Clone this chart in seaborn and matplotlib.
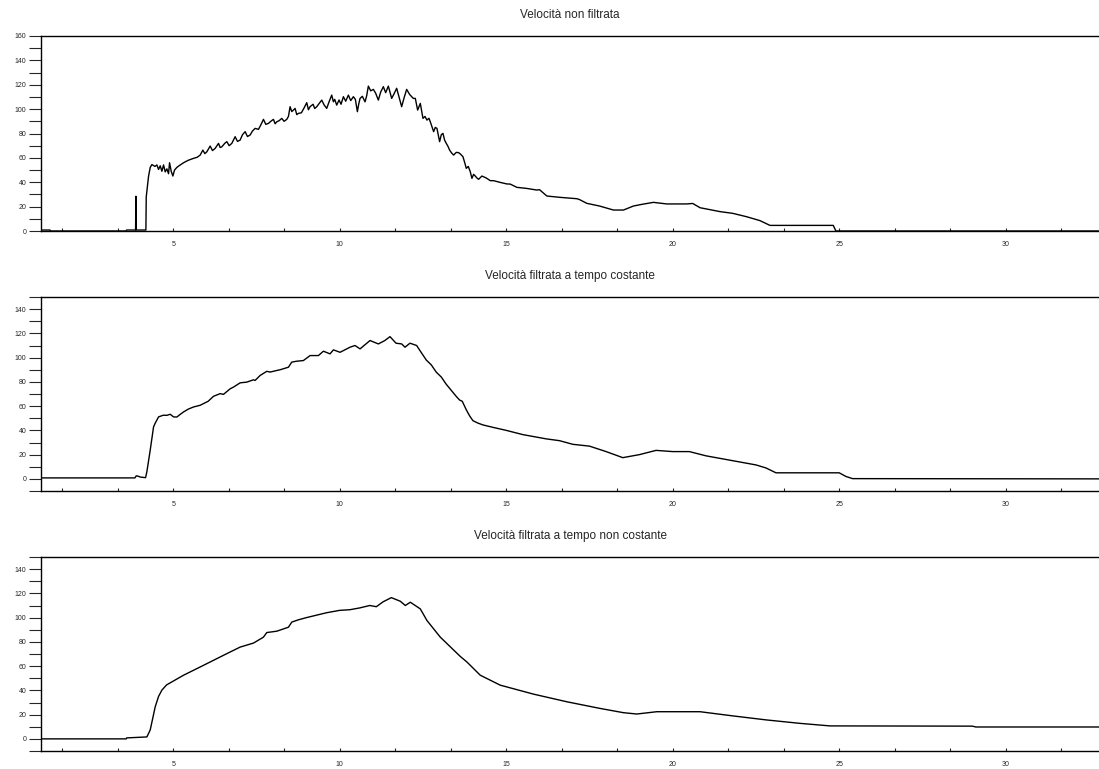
import matplotlib
matplotlib.use("Agg")
import matplotlib.pyplot as plt
from matplotlib.ticker import MultipleLocator
import seaborn as sns
import pandas as pd

# velocita' non filtrata
t_raw = [1.03, 1.3, 1.32, 3.58, 3.6, 3.87, 3.88, 3.89, 4.18, 4.19, 4.26, 4.31, 4.36, 4.45, 4.51, 4.56, 4.61, 4.66,
         4.71, 4.76, 4.81, 4.86, 4.89, 4.94, 4.99, 5.04, 5.11, 5.2, 5.31, 5.45, 5.61, 5.72, 5.81, 5.89, 5.95, 6.01,
         6.11, 6.18, 6.26, 6.36, 6.41, 6.46, 6.55, 6.61, 6.68, 6.76, 6.86, 6.93, 7.01, 7.08, 7.16, 7.23, 7.31, 7.38,
         7.46, 7.56, 7.63, 7.71, 7.78, 7.86, 7.93, 8.01, 8.06, 8.11, 8.18, 8.26, 8.33, 8.41, 8.46, 8.51, 8.56, 8.61,
         8.66, 8.71, 8.76, 8.85, 8.93, 9.01, 9.06, 9.11, 9.2, 9.25, 9.31, 9.38, 9.46, 9.53, 9.61, 9.68, 9.76, 9.81,
         9.85, 9.91, 9.98, 10.04, 10.11, 10.18, 10.26, 10.33, 10.41, 10.47, 10.53, 10.57, 10.61, 10.68, 10.76, 10.81,
         10.86, 10.93, 11.01, 11.08, 11.16, 11.23, 11.31, 11.38, 11.46, 11.51, 11.56, 11.63, 11.71, 11.78, 11.86,
         11.93, 12.01, 12.1, 12.21, 12.27, 12.34, 12.42, 12.5, 12.56, 12.62, 12.68, 12.72, 12.82, 12.87, 12.92, 13.0,
         13.05, 13.1, 13.15, 13.2, 13.25, 13.3, 13.36, 13.42, 13.5, 13.57, 13.63, 13.7, 13.76, 13.8, 13.86, 13.92,
         13.97, 14.02, 14.07, 14.12, 14.17, 14.27, 14.4, 14.52, 14.62, 14.8, 15.02, 15.12, 15.32, 15.6, 15.92, 16.0,
         16.22, 16.62, 17.12, 17.2, 17.42, 17.8, 18.22, 18.52, 18.82, 19.1, 19.42, 19.82, 20.42, 20.6, 20.82, 21.42,
         21.8, 22.22, 22.62, 22.92, 24.82, 24.9, 32.8]
v_raw = [0.8, 0.8, 0, 0, 0.8, 0.8, 28.5, 0.8, 0.8, 28, 45, 52.2, 54.5, 53, 54.2, 50.5, 53.5, 49,
         54.2, 48.5, 51, 47, 56, 49, 45.1, 50, 52.2, 54, 56, 58, 59.6, 60.5, 62.3, 66.4, 63.5, 65,
         69.7, 66, 67.8, 71.9, 68.5, 69.1, 72, 73.3, 70, 71.9, 77.4, 73.5, 74.6, 79, 81.5, 77.5, 78.8, 82,
         84.2, 83.4, 87, 91.6, 87.5, 88.3, 90, 91.6, 88, 89.6, 90.5, 92.4, 90, 91.6, 94, 102, 98, 99.2,
         100.6, 95.5, 96.5, 97, 101, 105.3, 99.5, 102, 104, 100.5, 102, 104.5, 107.4, 103.5, 100.6, 106, 111.5, 106,
         108, 103.3, 107.5, 104, 110.2, 106.5, 111.5, 107, 110.2, 108, 97.9, 104, 108.8, 110.5, 106, 111,
         118.9, 115, 116.2, 113, 107.4, 114, 118.4, 113.5, 118.9, 114, 108.8, 112.5, 117.1, 110, 102,
         109, 116.2, 112, 108.8, 108.8, 99.2, 104.7, 92.4, 94, 91, 92.5, 89.6, 81.5, 85, 84.2, 73.3,
         79, 80.1, 74.5, 71.9, 69.5, 66.4, 64, 62.3, 64.5, 64.3, 63, 61, 55.5, 51.4, 53, 48.7,
         43.2, 46.5, 45.1, 43.5, 42.4, 45.1, 43.5, 41.3, 41.3, 40, 38.6, 38.5, 35.8, 35, 33.6, 33.9,
         28.7, 27.6, 26.5, 25.8, 22.7, 20.5, 17.2, 17.2, 20.5, 22, 23.5, 22.2, 22.2, 22.6, 19.1, 15.9,
         14.5, 11.7, 8.5, 4.6, 4.6, 0, 0]

# velocita' filtrata a tempo costante
t_const = [1.03, 3.85, 3.89, 3.95, 4.01, 4.17, 4.21, 4.31, 4.41, 4.46, 4.56, 4.7, 4.81, 4.91, 5.01, 5.11, 5.2, 5.31,
           5.45, 5.61, 5.81, 5.91, 6.05, 6.21, 6.41, 6.51, 6.71, 6.81, 7.01, 7.21, 7.41, 7.46, 7.61, 7.81, 7.91,
           8.11, 8.21, 8.46, 8.56, 8.7, 8.91, 9.11, 9.36, 9.51, 9.71, 9.81, 10.01, 10.31, 10.46, 10.61, 10.91,
           11.16, 11.35, 11.51, 11.69, 11.86, 11.96, 12.11, 12.31, 12.41, 12.6, 12.75, 12.9, 13.05, 13.2, 13.35,
           13.5, 13.6, 13.68, 13.8, 13.9, 14.0, 14.15, 14.3, 14.6, 15.0, 15.5, 15.9, 16.2, 16.6, 17.0, 17.5, 18.0,
           18.5, 19.0, 19.5, 20.0, 20.5, 21.0, 21.5, 22.0, 22.5, 22.8, 23.1, 25.0, 25.2, 25.4, 32.8]
v_const = [0.8, 0.8, 2.5, 2.2, 1.5, 1, 6, 23.8, 42.9, 46, 51.1, 52.5, 52.4, 53.3, 51.1, 51, 53, 55.2,
           57.5, 59.3, 60.7, 62.1, 64, 68.1, 70.3, 69.7, 74.3, 75.7, 79.2, 79.8, 81.7, 81.2, 85.3, 88.7, 88.1,
           89.4, 90, 92.1, 96.3, 97, 97.6, 101.7, 101.7, 105.3, 103.1, 106.4, 104.4, 108.6, 110, 107.2, 114.1,
           111.3, 114, 117.3, 111.9, 111.3, 108.6, 111.9, 110, 105.8, 98, 94, 88, 84, 78, 73,
           68, 65, 64, 57, 52, 48, 46, 44.5, 42.5, 40, 36.5, 34.5, 33, 31.5, 28.5, 27, 22.5,
           17.5, 20, 23.5, 22.5, 22.5, 19, 16.5, 14, 11.5, 9, 5, 5, 2, 0.2, 0]

# velocita' filtrata a tempo non costante
t_var = [1.03, 3.59, 3.6, 4.21, 4.31, 4.46, 4.56, 4.66, 4.8, 4.96, 5.31, 5.81, 6.21, 6.61, 7.01, 7.41, 7.71, 7.81,
         8.11, 8.46, 8.56, 8.76, 9.0, 9.3, 9.6, 10.0, 10.3, 10.6, 10.9, 11.1, 11.3, 11.55, 11.82, 11.97, 12.12,
         12.42, 12.62, 13.02, 13.62, 13.82, 14.22, 14.82, 15.82, 16.82, 17.82, 18.52, 18.92, 19.52, 20.82, 21.82,
         22.82, 23.82, 24.72, 29.0, 29.1, 32.8]
v_var = [0, 0, 0.8, 1.6, 7.4, 26.5, 35, 40.2, 44.5, 47, 52.5, 59.3, 64.8, 70.3, 75.7, 79, 83.9, 87.7,
         88.8, 92.1, 96.3, 98.2, 100, 102, 104, 106, 106.5, 108, 110, 109, 113, 116.5, 113.5, 110, 112.7,
         107.2, 97.6, 83.9, 68, 63.4, 52.5, 44.3, 36.9, 30.6, 25.1, 21.6, 20.5, 22.4, 22.4, 18.9,
         15.6, 12.8, 10.7, 10.5, 9.8, 9.8]

titles = ["Velocità non filtrata", "Velocità filtrata a tempo costante", "Velocità filtrata a tempo non costante"]
ylims = [(0, 160), (-10, 150), (-10, 150)]

sns.set_style("white")
plt.rcParams['font.family'] = ['Liberation Sans', 'DejaVu Sans']

fig = plt.figure(figsize=(10.99, 7.69), dpi=100)
W, H = 1099, 769
boxes = [(36, 231), (297, 491), (557, 751)]
series = [(t_raw, v_raw), (t_const, v_const), (t_var, v_var)]

for i in range(3):
    top, bot = boxes[i]
    ax = fig.add_axes([41 / W, 1 - bot / H, (1099 - 41) / W, (bot - top) / H])
    df = pd.DataFrame({"t": series[i][0], "v": series[i][1]})
    sns.lineplot(data=df, x="t", y="v", ax=ax, color="black", linewidth=1.0,
                 estimator=None, sort=False)
    ax.set_xlim(1.03, 32.8)
    ax.set_ylim(*ylims[i])
    ax.set_xlabel("")
    ax.set_ylabel("")
    ax.set_title(titles[i], fontsize=8.5, pad=13)
    ax.xaxis.set_major_locator(MultipleLocator(5))
    ax.xaxis.set_minor_locator(MultipleLocator(5 / 3))
    ax.yaxis.set_major_locator(MultipleLocator(20))
    ax.yaxis.set_minor_locator(MultipleLocator(10))
    ax.tick_params(axis="y", which="both", direction="out", length=8.6, width=0.8,
                   labelsize=5, pad=2, left=True)
    ax.tick_params(axis="x", which="both", direction="in", length=2.5, width=0.8,
                   labelsize=5, pad=7, bottom=True)
    for s in ax.spines.values():
        s.set_color("black")
        s.set_linewidth(1.0)
    ax.spines["right"].set_visible(False)

fig.savefig("out.png", dpi=100, facecolor="white")
